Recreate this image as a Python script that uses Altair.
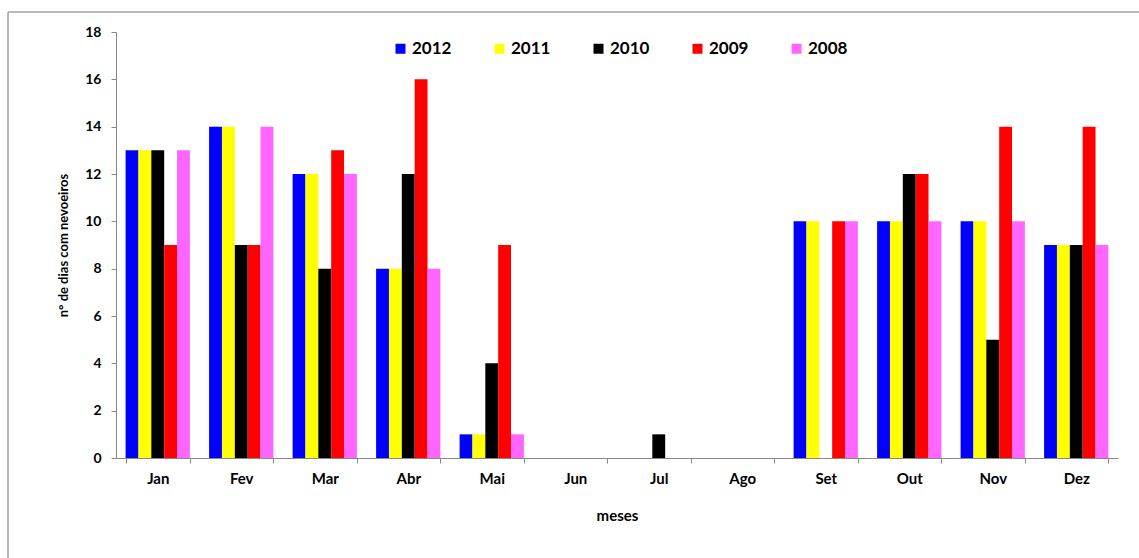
import altair as alt
import pandas as pd

months = ["Jan", "Fev", "Mar", "Abr", "Mai", "Jun", "Jul", "Ago", "Set", "Out", "Nov", "Dez"]
years = ["2012", "2011", "2010", "2009", "2008"]
colors = ["#0000FF", "#FFFF00", "#000000", "#FF0000", "#FF66FF"]

v2012 = [13, 14, 12, 8, 1, 0, 0, 0, 10, 10, 10, 9]
v2011 = [13, 14, 12, 8, 1, 0, 0, 0, 10, 10, 10, 9]
v2010 = [13, 9, 8, 12, 4, 0, 1, 0, 0, 12, 5, 9]
v2009 = [9, 9, 13, 16, 9, 0, 0, 0, 10, 12, 14, 14]
v2008 = [13, 14, 12, 8, 1, 0, 0, 0, 10, 10, 10, 9]

series = {"2012": v2012, "2011": v2011, "2010": v2010, "2009": v2009, "2008": v2008}
rows = []
for y in years:
    for m, v in zip(months, series[y]):
        rows.append({"mes": m, "ano": y, "dias": v})
df = pd.DataFrame(rows)

FONT = "Lato"

bars = alt.Chart(df).mark_bar().encode(
    x=alt.X("mes:N", sort=months,
            scale=alt.Scale(paddingInner=0.23, paddingOuter=0.115),
            axis=alt.Axis(title="meses", labelAngle=0, tickBand="extent",
                          domainColor="#888888", tickColor="#888888", tickSize=5,
                          labelFont=FONT, labelFontSize=15, labelFontWeight="bold",
                          labelColor="#000000", labelPadding=8,
                          titleFont=FONT, titleFontSize=15, titleFontWeight="bold",
                          titleColor="#000000", titlePadding=22)),
    xOffset=alt.XOffset("ano:N", sort=years, scale=alt.Scale(paddingInner=0, paddingOuter=0)),
    y=alt.Y("dias:Q", scale=alt.Scale(domain=[0, 18], nice=False),
            axis=alt.Axis(title="n° de dias com nevoeiros", values=list(range(0, 19, 2)),
                          grid=False, domainColor="#888888", tickColor="#888888", tickSize=5,
                          labelFont=FONT, labelFontSize=14, labelFontWeight="bold",
                          labelColor="#000000", labelPadding=10,
                          titleFont=FONT, titleFontSize=13, titleFontWeight="bold",
                          titleColor="#000000", titlePadding=14)),
    color=alt.Color("ano:N", sort=years,
                    scale=alt.Scale(domain=years, range=colors),
                    legend=alt.Legend(title=None, orient="none", legendX=276, legendY=8,
                                      direction="horizontal", columns=5, gridAlign="all",
                                      symbolType="square", symbolSize=100,
                                      symbolStrokeWidth=0, labelOffset=3,
                                      columnPadding=39,
                                      labelFont=FONT, labelFontSize=17,
                                      labelFontWeight="bold", labelColor="#000000")),
)

frame_df = pd.DataFrame({"k": [0]})
left_line = alt.Chart(frame_df).mark_rule(color="#a0a0a0", strokeWidth=1.5).encode(
    x=alt.value(-108), y=alt.value(-20), y2=alt.value(526))
top_line = alt.Chart(frame_df).mark_rule(color="#a0a0a0", strokeWidth=1.5).encode(
    x=alt.value(-108), x2=alt.value(1023), y=alt.value(-20))

chart = alt.layer(bars, left_line, top_line).properties(
    width=1002, height=426,
    autosize=alt.AutoSizeParams(type="none"),
    padding={"left": 116, "top": 32, "right": 21, "bottom": 100},
    background="white",
).configure_view(stroke=None)

chart.save("out.html", embed_options={"renderer": "svg", "actions": False})
